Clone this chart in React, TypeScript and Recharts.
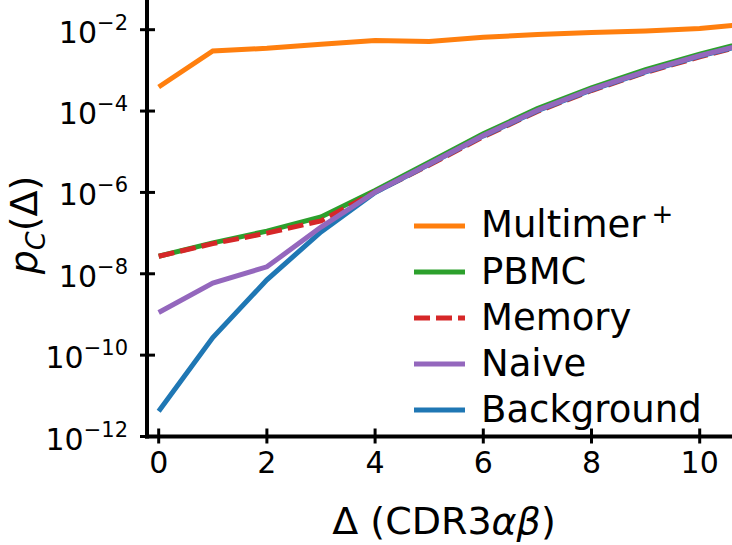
import React from "react";
import { LineChart, Line, XAxis, YAxis, Legend, Label } from "recharts";

const deltas = [0, 1, 2, 3, 4, 5, 6, 7, 8, 9, 10, 11];
const multimer = [3.9e-4, 3.0e-3, 3.5e-3, 4.4e-3, 5.4e-3, 5.1e-3, 6.5e-3, 7.6e-3, 8.5e-3, 9.3e-3, 1.07e-2, 1.41e-2];
const pbmc = [2.7e-8, 5.75e-8, 1.12e-7, 2.5e-7, 1.12e-6, 5.5e-6, 2.75e-5, 1.15e-4, 3.7e-4, 1.05e-3, 2.5e-3, 5.5e-3];
const memory = [2.7e-8, 5.5e-8, 1.0e-7, 2.0e-7, 1.02e-6, 4.7e-6, 2.35e-5, 9.8e-5, 3.2e-4, 8.9e-4, 2.15e-3, 4.7e-3];
const naive = [1.12e-9, 5.9e-9, 1.48e-8, 1.41e-7, 1.02e-6, 5.0e-6, 2.5e-5, 1.05e-4, 3.4e-4, 9.5e-4, 2.3e-3, 5.0e-3];
const background = [4.2e-12, 2.7e-10, 7.1e-9, 1.07e-7, 1.0e-6, 4.9e-6, 2.45e-5, 1.02e-4, 3.3e-4, 9.2e-4, 2.25e-3, 4.9e-3];

const xTicks = [0, 2, 4, 6, 8, 10];
const yTicks = [1e-12, 1e-10, 1e-8, 1e-6, 1e-4, 1e-2];

const FONT = "'DejaVu Sans', sans-serif";
const LW = 5;

const series = [
  { key: "multimer", name: "Multimer", sup: "+", color: "#ff7f0e", dash: undefined as string | undefined },
  { key: "pbmc", name: "PBMC", sup: "", color: "#2ca02c", dash: undefined },
  { key: "memory", name: "Memory", sup: "", color: "#d62728", dash: "16 6" },
  { key: "naive", name: "Naive", sup: "", color: "#9467bd", dash: undefined },
  { key: "background", name: "Background", sup: "", color: "#1f77b4", dash: undefined },
];

const data = deltas.map((d, i) => ({
  delta: d,
  multimer: multimer[i],
  pbmc: pbmc[i],
  memory: memory[i],
  naive: naive[i],
  background: background[i],
}));

function YTick(props: any) {
  const { x, y, payload } = props;
  const exp = Math.round(Math.log10(payload.value));
  return (
    <g>
      <line x1={x - 7} x2={x + 8} y1={y} y2={y} stroke="#000" strokeWidth={3} />
      <text x={x - 19} y={y + 13} textAnchor="end" fontSize={30} fontFamily={FONT} fill="#000">
        10
        <tspan dy={-13} fontSize={21}>{"\u2212" + Math.abs(exp)}</tspan>
      </text>
    </g>
  );
}

function XTick(props: any) {
  const { x, y, payload } = props;
  return (
    <g>
      <line x1={x} x2={x} y1={y - 8} y2={y + 7} stroke="#000" strokeWidth={3} />
      <text x={x} y={y + 36} textAnchor="middle" fontSize={30} fontFamily={FONT} fill="#000">
        {payload.value}
      </text>
    </g>
  );
}

function LegendBox() {
  return (
    <div style={{ fontFamily: FONT, fontSize: 37, color: "#000" }}>
      {series.map((s) => (
        <div key={s.key} style={{ display: "flex", alignItems: "center", height: 46 }}>
          <svg width={56} height={10} style={{ marginRight: 15 }}>
            <line x1={4} x2={55} y1={5} y2={5} stroke={s.color} strokeWidth={LW}
              strokeDasharray={s.dash} />
          </svg>
          <span style={{ lineHeight: "46px", whiteSpace: "nowrap" }}>
            {s.name}
            {s.sup && (
              <span style={{ fontSize: 26, position: "relative", top: -14, marginLeft: 6 }}>{s.sup}</span>
            )}
          </span>
        </div>
      ))}
    </div>
  );
}

const drawOrder = ["multimer", "pbmc", "memory", "background", "naive"];

export default function App() {
  return (
    <div style={{ position: "relative", width: 732, height: 545, overflow: "hidden", background: "#fff" }}>
      <style>{"body{margin:0}"}</style>
      <LineChart width={732} height={545} data={data} margin={{ top: 0, right: 0, bottom: 0, left: 0 }}>
        <XAxis
          dataKey="delta"
          type="number"
          domain={[-0.216, 10.597]}
          allowDataOverflow
          ticks={xTicks}
          height={108.5}
          tickSize={0}
          tickMargin={0}
          tickLine={false}
          axisLine={{ stroke: "#000", strokeWidth: 4, strokeLinecap: "square" }}
          tick={<XTick />}
        >
          <Label
            content={() => (
              <text x={444} y={534} textAnchor="middle" fontSize={38} fontFamily={FONT} fill="#000">
                {"\u0394 (CDR3"}
                <tspan fontStyle="italic">{"\u03b1\u03b2"}</tspan>
                {")"}
              </text>
            )}
          />
        </XAxis>
        <YAxis
          type="number"
          scale="log"
          domain={[1e-12, 0.0537]}
          allowDataOverflow
          ticks={yTicks}
          width={147}
          tickSize={0}
          tickMargin={0}
          tickLine={false}
          axisLine={{ stroke: "#000", strokeWidth: 4, strokeLinecap: "square" }}
          tick={<YTick />}
        >
          <Label
            content={() => (
              <text x={37} y={225} transform="rotate(-90 37 225)" textAnchor="middle" fontSize={38}
                fontFamily={FONT} fill="#000">
                <tspan fontStyle="italic">p</tspan>
                <tspan fontStyle="italic" fontSize={27} dy={8}>C</tspan>
                <tspan dy={-8}>{"(\u0394)"}</tspan>
              </text>
            )}
          />
        </YAxis>
        <Legend
          layout="horizontal"
          verticalAlign="middle"
          align="center"
          wrapperStyle={{ left: 410, top: 203, width: 322 }}
          content={() => <LegendBox />}
        />
        {drawOrder.map((k) => {
          const s = series.find((t) => t.key === k)!;
          return (
            <Line
              key={k}
              type="linear"
              dataKey={k}
              stroke={s.color}
              strokeWidth={LW}
              strokeDasharray={s.dash}
              dot={false}
              isAnimationActive={false}
              legendType="none"
            />
          );
        })}
      </LineChart>
    </div>
  );
}
